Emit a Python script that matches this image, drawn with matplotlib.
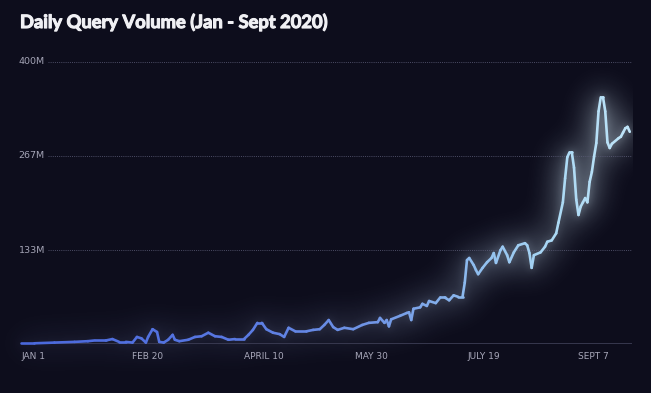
import numpy as np
import matplotlib
matplotlib.use("Agg")
import matplotlib.pyplot as plt
import matplotlib.patheffects as pe
from matplotlib.collections import LineCollection
from matplotlib.colors import LinearSegmentedColormap

# day offset from Jan 1 2020, query volume in millions
days = [0, 6, 15, 24, 30, 33, 38, 41, 44, 47, 50, 52, 54, 56, 57, 59, 61, 62, 64,
        66, 68, 69, 71, 75, 78, 81, 84, 87, 90, 93, 96, 100, 102, 104, 106, 108,
        110, 113, 116, 118, 120, 123, 128, 131, 134, 136, 138, 140, 142, 145, 149,
        153, 156, 160, 161, 163, 164, 165, 166, 170, 173, 174, 175, 176, 179, 180,
        182, 183, 186, 188, 190, 192, 194, 196, 198, 199, 200, 201, 203, 204, 205,
        207, 209, 211, 212, 213, 215, 216, 218, 219, 221, 223, 226, 227, 228, 229,
        230, 233, 235, 236, 238, 240, 241, 243, 244, 245, 246, 247, 248, 249, 250,
        251, 252, 253, 254, 255, 256, 257, 258, 259, 260, 261, 262, 263, 264, 265,
        268, 269, 270, 271, 272, 273]
volume = [1, 1, 2, 3, 4, 5, 5, 7, 3, 3, 2, 10, 8, 2, 10, 21, 17, 3, 2,
          6, 13, 6, 4, 6, 10, 11, 16, 11, 10, 6, 7, 7, 13, 20, 30, 30,
          21, 16, 14, 10, 23, 18, 18, 20, 21, 27, 34, 24, 20, 23, 21,
          27, 30, 31, 37, 30, 34, 25, 35, 40, 44, 45, 34, 50, 52, 57,
          54, 61, 58, 66, 66, 62, 69, 67, 67, 87, 119, 122, 112, 105, 99,
          108, 116, 122, 129, 115, 133, 138, 126, 116, 130, 140, 143, 140, 129, 108,
          126, 130, 138, 145, 147, 157, 172, 201, 235, 265, 272, 272, 250, 205, 183,
          195, 201, 207, 201, 230, 244, 266, 285, 330, 350, 350, 330, 286, 278, 284,
          292, 294, 300, 306, 308, 301]

tick_days = [0, 50, 100, 150, 200, 250]
tick_labels = ["JAN 1", "FEB 20", "APRIL 10", "MAY 30", "JULY 19", "SEPT 7"]
grid_vals = [133.33, 266.67, 400]
grid_labels = ["133M", "267M", "400M"]

BG = "#0d0d1c"
W, H, DPI = 651, 393, 100
AX_RECT = [21 / W, 49 / H, 611 / W, 282 / H]
XLIM = (0, 274)
YLIM = (0, 400)

line_cmap = LinearSegmentedColormap.from_list(
    "qv", [(0.0, "#4a68dc"), (0.35, "#5878e2"), (0.6, "#7399e6"),
           (0.75, "#8fbdee"), (0.88, "#abd9f4"), (1.0, "#bfe4f8")])


def segments(x, y):
    pts = np.column_stack([x, y]).reshape(-1, 1, 2)
    return np.concatenate([pts[:-1], pts[1:]], axis=1)


def gauss_blur(img, sigma):
    r = int(sigma * 3)
    k = np.exp(-0.5 * (np.arange(-r, r + 1) / sigma) ** 2)
    k /= k.sum()
    img = np.apply_along_axis(lambda v: np.convolve(v, k, mode="same"), 0, img)
    img = np.apply_along_axis(lambda v: np.convolve(v, k, mode="same"), 1, img)
    return img


def render_glow(x, y, seg_t):
    gfig = plt.figure(figsize=(W / DPI, H / DPI), dpi=DPI, facecolor="black")
    gax = gfig.add_axes(AX_RECT)
    gax.set_xlim(*XLIM)
    gax.set_ylim(*YLIM)
    gax.axis("off")
    cols = line_cmap(seg_t)
    w = (0.3 + 0.7 * seg_t ** 1.6)[:, None]
    cols[:, :3] = np.clip((cols[:, :3] * 0.55 + 0.45) * w, 0, 1)
    gax.add_collection(LineCollection(segments(x, y), colors=cols, linewidths=5,
                                      capstyle="round", clip_on=False))
    gfig.canvas.draw()
    img = np.asarray(gfig.canvas.buffer_rgba(), dtype=float)[..., :3] / 255.0
    plt.close(gfig)
    img = gauss_blur(img, 15) * 0.85 + gauss_blur(img, 3.5) * 0.12
    # halo is cut at the right edge of the plot area
    img[:, int(AX_RECT[0] * W + AX_RECT[2] * W) + 1:] = 0
    inten = img.max(axis=2)
    alpha = np.clip(inten, 0, 1)
    rgb = img / np.maximum(inten, 1e-6)[..., None]
    return np.dstack([rgb, alpha])


x = np.array(days, dtype=float)
y = np.array(volume, dtype=float)
mid = (x[:-1] + x[1:]) / 2
seg_t = mid / x.max()

fig = plt.figure(figsize=(W / DPI, H / DPI), dpi=DPI, facecolor=BG)
glow = fig.figimage(render_glow(x, y, seg_t), 0, 0, origin="upper")
glow.set_zorder(-5)

ax = fig.add_axes(AX_RECT)
ax.set_facecolor("none")
ax.set_xlim(*XLIM)
ax.set_ylim(*YLIM)
for s in ax.spines.values():
    s.set_visible(False)

# gridlines and their labels
for v, lab in zip(grid_vals, grid_labels):
    ax.axhline(v, xmin=0.044, xmax=1.0, color="#5c5d78", lw=0.7,
               linestyle=(0, (1, 1.2)), alpha=0.8)
    ax.text(-1, v, lab, color="#a4a4b6", fontsize=6.8, ha="left", va="center",
            family="DejaVu Sans")
ax.axhline(0, color="#3a3b52", lw=1.3, zorder=1)

ax.set_yticks([])
ax.set_xticks(tick_days)
ax.set_xticklabels(tick_labels, ha="left", color="#a8a8ba", fontsize=6.5)
ax.tick_params(axis="x", length=0, pad=6)

lc = LineCollection(segments(x, y), colors=line_cmap(seg_t), linewidths=1.9,
                    capstyle="round", joinstyle="round", clip_on=False, zorder=3)
ax.add_collection(lc)

title = fig.text(20 / W, 1 - 22 / H, "Daily Query Volume (Jan - Sept 2020)",
                 color="#f0f0f4", fontsize=13.2, fontweight="bold", family="Lato",
                 ha="left", va="center")
title.set_path_effects([pe.withStroke(linewidth=0.8, foreground="#f0f0f4")])

fig.savefig("out.png", dpi=DPI, facecolor=BG)
